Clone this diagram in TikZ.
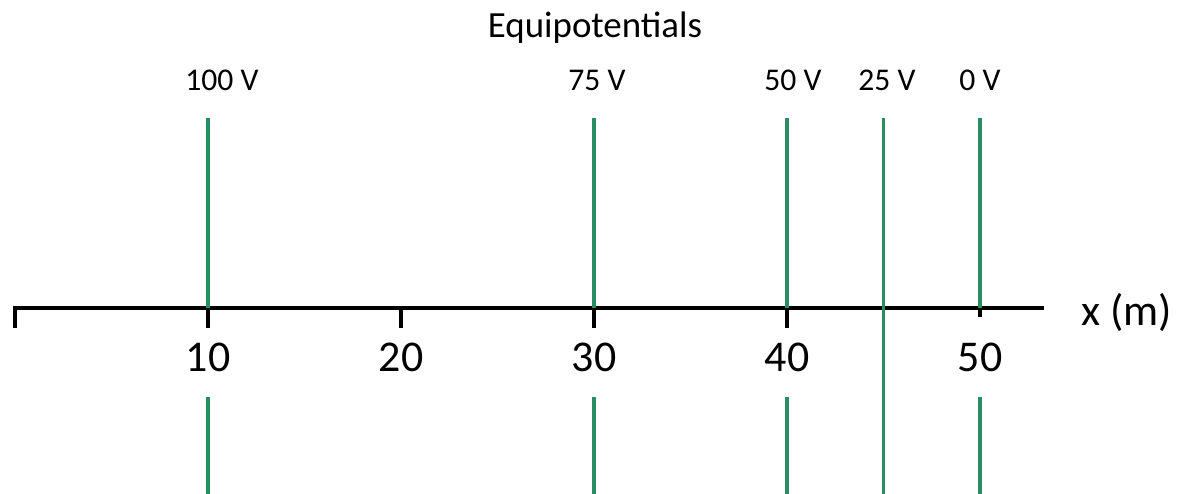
\documentclass[tikz,border=0pt]{standalone}
\usepackage{fontspec}
\setmainfont{Carlito}
\definecolor{eqgreen}{RGB}{40,142,98}
\tikzset{
    axisline/.style={line width=2pt},
    equip/.style={eqgreen,line width=2pt},
    ticklabel/.style={font=\fontsize{25}{30}\selectfont},
    voltlabel/.style={font=\fontsize{18}{22}\selectfont}
}
\begin{document}
\begin{tikzpicture}
        \useasboundingbox (-0.3,-3.72) rectangle (23.24,6.16);
        % x axis with ticks
        \draw[axisline] (0,-0.4) -- (0,0) -- (20.58,0) coordinate (axisend);
        \node[ticklabel,anchor=west] (xlab) at (21.2,-0.08) {x (m)};
        \foreach \x/\lab in {3.86/10, 7.72/20, 11.58/30, 15.44/40} {
                \draw[axisline] (\x,0) -- (\x,-0.4);
                \node[ticklabel] (t\lab) at (\x,-0.98) {\lab};
        }
        \draw[axisline] (19.30,0) -- (19.30,-0.18);
        \node[ticklabel] (t50) at (19.30,-0.98) {50};

        % equipotential lines
        \node[font=\fontsize{21}{25}\selectfont] (title) at (11.6,5.6) {Equipotentials};
        \foreach \x/\v/\s in {3.86/100/0.28, 11.58/75/0.06, 15.44/50/0.12, 19.30/0/0} {
                \draw[equip] (\x,3.8) -- (\x,0);
                \draw[equip] (\x,-1.78) -- (\x,-3.72);
                \node[voltlabel] (v\v) at (\x+\s,4.56) {\v~V};
        }
        \draw[equip] (17.37,3.8) -- (17.37,-3.72);
        \node[voltlabel] (v25) at (17.44,4.56) {25~V};
\end{tikzpicture}
\end{document}
